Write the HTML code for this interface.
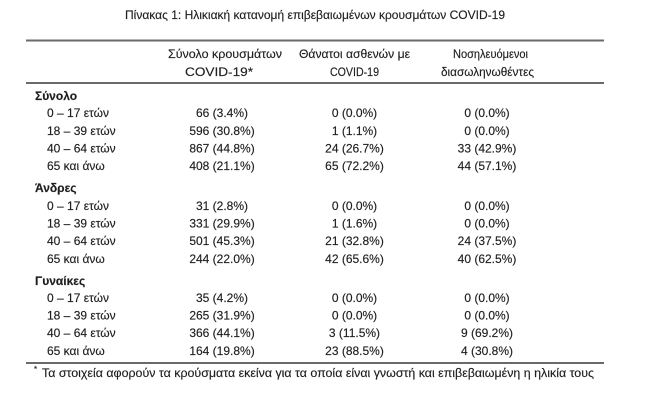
<!DOCTYPE html>
<html>
<head>
<meta charset="utf-8">
<style>
html,body{margin:0;padding:0;background:#fff;}
svg{display:block;}
text{font-family:"Liberation Sans","Noto Sans CJK SC",sans-serif;font-size:12px;fill:#1e1e1e;stroke:#1e1e1e;stroke-width:0.15px;}
.b{font-weight:bold;}
.m{text-anchor:middle;}
</style>
</head>
<body>
<svg width="660" height="414" viewBox="0 0 660 414" xmlns="http://www.w3.org/2000/svg">
<rect width="660" height="414" fill="#fff"/>
<text x="125" y="19" textLength="380" lengthAdjust="spacingAndGlyphs">Πίνακας 1: Ηλικιακή κατανομή επιβεβαιωμένων κρουσμάτων COVID-19</text>

<rect x="26" y="39.5" width="578" height="2" fill="#6a6a6a"/>
<rect x="26" y="82" width="578" height="2" fill="#6a6a6a"/>
<rect x="26" y="362" width="578" height="2" fill="#6a6a6a"/>

<text x="168" y="58" textLength="114" lengthAdjust="spacingAndGlyphs">Σύνολο κρουσμάτων</text>
<text x="185" y="76" textLength="68" lengthAdjust="spacingAndGlyphs">COVID-19*</text>
<text x="299" y="58" textLength="111" lengthAdjust="spacingAndGlyphs">Θάνατοι ασθενών με</text>
<text x="330" y="76" textLength="49" lengthAdjust="spacingAndGlyphs">COVID-19</text>
<text x="453" y="58" textLength="75" lengthAdjust="spacingAndGlyphs">Νοσηλευόμενοι</text>
<text x="441" y="76" textLength="93" lengthAdjust="spacingAndGlyphs">διασωληνωθέντες</text>

<!-- Σύνολο -->
<text class="b" x="35" y="100">Σύνολο</text>
<text x="47" y="117">0 – 17 ετών</text>
<text x="47" y="135">18 – 39 ετών</text>
<text x="47" y="152.5">40 – 64 ετών</text>
<text x="47" y="170">65 και άνω</text>
<text class="m" x="222" y="117">66 (3.4%)</text>
<text class="m" x="222" y="135">596 (30.8%)</text>
<text class="m" x="222" y="152.5">867 (44.8%)</text>
<text class="m" x="222" y="170">408 (21.1%)</text>
<text class="m" x="354.5" y="117">0 (0.0%)</text>
<text class="m" x="354.5" y="135">1 (1.1%)</text>
<text class="m" x="354.5" y="152.5">24 (26.7%)</text>
<text class="m" x="354.5" y="170">65 (72.2%)</text>
<text class="m" x="487" y="117">0 (0.0%)</text>
<text class="m" x="487" y="135">0 (0.0%)</text>
<text class="m" x="487" y="152.5">33 (42.9%)</text>
<text class="m" x="487" y="170">44 (57.1%)</text>

<!-- Άνδρες -->
<text class="b" x="35" y="192">Άνδρες</text>
<text x="47" y="210">0 – 17 ετών</text>
<text x="47" y="227.5">18 – 39 ετών</text>
<text x="47" y="245">40 – 64 ετών</text>
<text x="47" y="263">65 και άνω</text>
<text class="m" x="222" y="210">31 (2.8%)</text>
<text class="m" x="222" y="227.5">331 (29.9%)</text>
<text class="m" x="222" y="245">501 (45.3%)</text>
<text class="m" x="222" y="263">244 (22.0%)</text>
<text class="m" x="354.5" y="210">0 (0.0%)</text>
<text class="m" x="354.5" y="227.5">1 (1.6%)</text>
<text class="m" x="354.5" y="245">21 (32.8%)</text>
<text class="m" x="354.5" y="263">42 (65.6%)</text>
<text class="m" x="487" y="210">0 (0.0%)</text>
<text class="m" x="487" y="227.5">0 (0.0%)</text>
<text class="m" x="487" y="245">24 (37.5%)</text>
<text class="m" x="487" y="263">40 (62.5%)</text>

<!-- Γυναίκες -->
<text class="b" x="35" y="285">Γυναίκες</text>
<text x="47" y="302">0 – 17 ετών</text>
<text x="47" y="319.5">18 – 39 ετών</text>
<text x="47" y="337">40 – 64 ετών</text>
<text x="47" y="355">65 και άνω</text>
<text class="m" x="222" y="302">35 (4.2%)</text>
<text class="m" x="222" y="319.5">265 (31.9%)</text>
<text class="m" x="222" y="337">366 (44.1%)</text>
<text class="m" x="222" y="355">164 (19.8%)</text>
<text class="m" x="354.5" y="302">0 (0.0%)</text>
<text class="m" x="354.5" y="319.5">0 (0.0%)</text>
<text class="m" x="354.5" y="337">3 (11.5%)</text>
<text class="m" x="354.5" y="355">23 (88.5%)</text>
<text class="m" x="487" y="302">0 (0.0%)</text>
<text class="m" x="487" y="319.5">0 (0.0%)</text>
<text class="m" x="487" y="337">9 (69.2%)</text>
<text class="m" x="487" y="355">4 (30.8%)</text>

<text x="34" y="372" style="font-size:8px">*</text>
<text x="42" y="377" textLength="552" lengthAdjust="spacingAndGlyphs">Τα στοιχεία αφορούν τα κρούσματα εκείνα για τα οποία είναι γνωστή και επιβεβαιωμένη η ηλικία τους</text>
</svg>
</body>
</html>
